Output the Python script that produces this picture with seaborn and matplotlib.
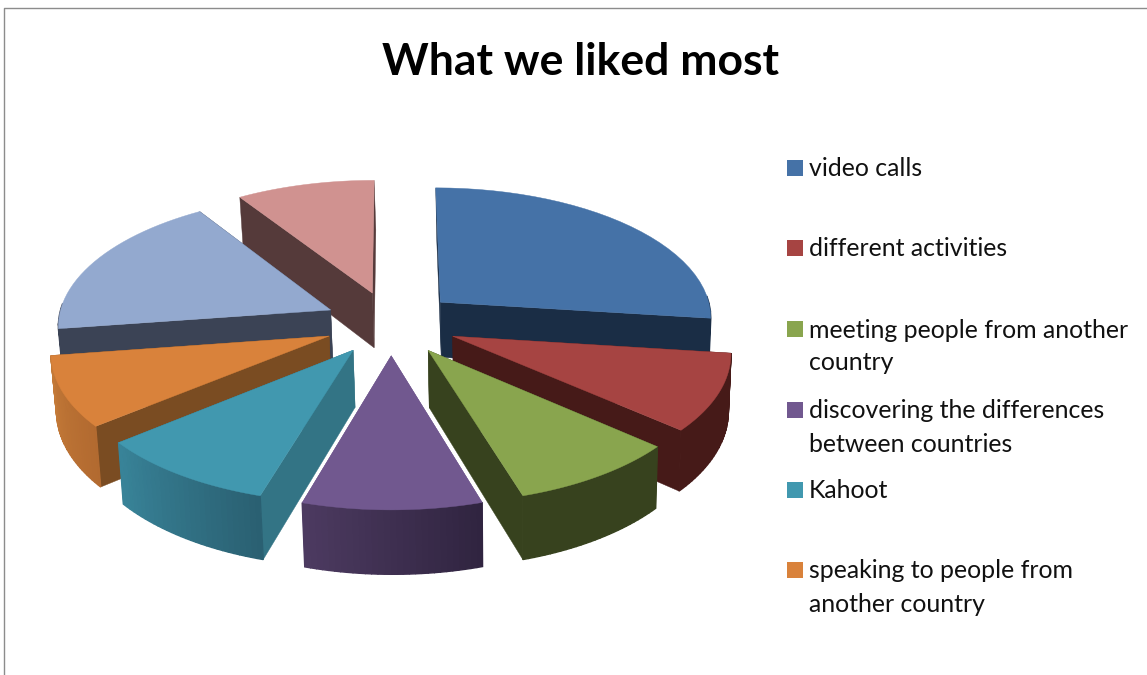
import numpy as np
import matplotlib
matplotlib.use("Agg")
import matplotlib.pyplot as plt
import seaborn as sns

title = "What we liked most"
labels = ["video calls", "different activities", "meeting people from another\ncountry",
          "discovering the differences\nbetween countries", "Kahoot",
          "speaking to people from\nanother country"]
values = [27.0, 9.4, 8.9, 9.3, 9.5, 8.6, 18.1, 9.2]

top_colors = ["#4572A7", "#A64442", "#89A54E", "#71588F", "#4198AF", "#D9823B", "#93A9CF", "#D09290"]
wall_colors = ["#1A2D45", "#461A18", "#37421E", "#71588F", "#337485", "#7A4C22", "#3B4355", "#553A3A"]
arc_left = ["#1A2D45", "#461A18", "#37421E", "#4C3A60", "#388398", "#C47A38", "#3B4355", "#553A3A"]
arc_right = ["#1A2D45", "#461A18", "#37421E", "#302440", "#2A6072", "#B26A30", "#3B4355", "#553A3A"]

# projection of the tilted pie, in pixels
cx, cy = 391, 323
radius = 273
tilt = 0.478
persp = 0.105
depth = 56
explode = 0.245
bottom_shrink = 0.012
bottom_shift = 1.5

sns.set_theme(style="white")
plt.rcParams["font.family"] = ["Lato", "DejaVu Sans"]


def project(u, v, down=0.0):
    s = 1 / (1 - persp * v)
    if down:
        return cx + bottom_shift + radius * u * s * (1 - bottom_shrink), cy + radius * tilt * v * s + down * s
    return cx + radius * u * s, cy + radius * tilt * v * s


def mix(c1, c2, t):
    a, b = np.array(matplotlib.colors.to_rgb(c1)), np.array(matplotlib.colors.to_rgb(c2))
    return a + (b - a) * t


fig = plt.figure(figsize=(11.47, 6.75), dpi=100)
ax = fig.add_axes([0, 0, 1, 1])
ax.set_xlim(0, 1147)
ax.set_ylim(675, 0)
ax.axis("off")

shares = np.array(values) / sum(values) * 2 * np.pi
ends = np.cumsum(shares)
starts = ends - shares
order = np.argsort([-np.cos((a + b) / 2) for a, b in zip(starts, ends)])

for i in order:
    a0, a1 = starts[i], ends[i]
    mid = (a0 + a1) / 2
    off_u, off_v = explode * np.sin(mid), -explode * np.cos(mid)
    th = np.linspace(a0, a1, 30)
    us = off_u + np.sin(th)
    vs = off_v - np.cos(th)

    # the two flat cut walls
    for a in (a0, a1):
        u_e, v_e = off_u + np.sin(a), off_v - np.cos(a)
        pts = [project(off_u, off_v), project(u_e, v_e), project(u_e, v_e, depth), project(off_u, off_v, depth)]
        ax.fill(*zip(*pts), color=wall_colors[i], lw=0.3, zorder=2)

    # curved outer wall, strip by strip, only the part facing the viewer
    for k in range(len(th) - 1):
        if -np.cos(th[k]) < -0.02 and -np.cos(th[k + 1]) < -0.02:
            continue
        pts = [project(us[k], vs[k]), project(us[k + 1], vs[k + 1]),
               project(us[k + 1], vs[k + 1], depth), project(us[k], vs[k], depth)]
        col = mix(arc_right[i], arc_left[i], k / (len(th) - 2))
        ax.fill(*zip(*pts), color=col, lw=1.0, zorder=2)

    x_top, y_top = project(np.r_[off_u, us], np.r_[off_v, vs])
    ax.fill(x_top, y_top, color=top_colors[i], lw=0.3, zorder=2)

# frame of the chart area, only top and left are in the crop
ax.plot([4, 4, 1147], [675, 8, 8], color="#8C8C8C", lw=1, zorder=1)

ax.text(581, 62, title, ha="center", va="center", fontsize=32, fontweight="bold", color="black")

legend_y = [168, 248, 329, 410, 490, 570]
line_gap = 33
for lab, col, y in zip(labels, top_colors, legend_y):
    ax.scatter([795], [y], marker="s", s=120, color=col, lw=0, zorder=3)
    for n, part in enumerate(lab.split("\n")):
        ax.text(809, y + 1 + n * line_gap, part, ha="left", va="center", fontsize=17.9, color="#111111")

fig.savefig("out.png", dpi=100, facecolor="white")
